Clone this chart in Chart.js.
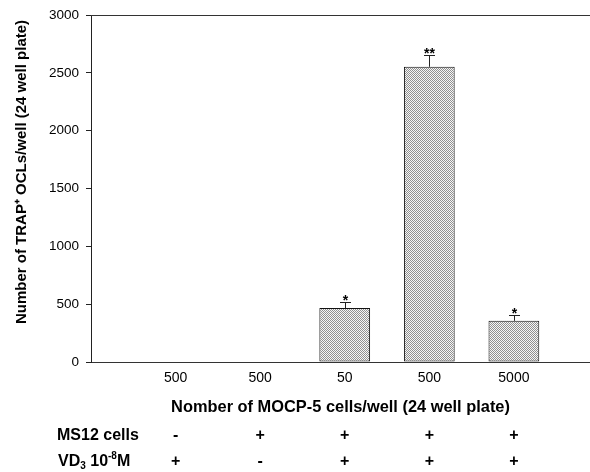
<!DOCTYPE html>
<html><head><meta charset="utf-8">
<script src="https://cdn.jsdelivr.net/npm/chart.js@4/dist/chart.umd.min.js"></script>
<style>html,body{margin:0;padding:0;background:#fff}#wrap{width:590px;height:472px;position:relative}</style>
</head><body><div id="wrap"><canvas id="c"></canvas></div>
<script>
const positions = [1, 2, 3, 4, 5];
const cellCounts = ['500', '500', '50', '500', '5000'];
const ocls = [0, 0, 467, 2553, 356];
const oclErr = [0, 0, 54, 105, 48];
const significance = ['', '', '*', '**', '*'];
const ms12 = ['-', '+', '+', '+', '+'];
const vd3 = ['+', '-', '+', '+', '+'];
const yTicks = [0, 500, 1000, 1500, 2000, 2500, 3000];
const yTitle = 'Number of TRAP\u207A OCLs/well (24 well plate)';

const FONT = '"Liberation Sans", Arial, sans-serif';

function stipple() {
  const p = document.createElement('canvas');
  p.width = 2; p.height = 2;
  const g = p.getContext('2d');
  g.fillStyle = '#f6f6f6'; g.fillRect(0, 0, 2, 2);
  g.fillStyle = '#909090'; g.fillRect(0, 0, 1, 1); g.fillRect(1, 1, 1, 1);
  return g.createPattern(p, 'repeat');
}

const extras = {
  id: 'extras',
  afterDatasetsDraw(chart) {
    const {ctx, chartArea, scales: {x, y}} = chart;
    ctx.save();
    ctx.strokeStyle = '#333'; ctx.lineWidth = 1;
    ctx.beginPath();
    ctx.moveTo(chartArea.left, Math.round(chartArea.top) + 0.5);
    ctx.lineTo(chartArea.right, Math.round(chartArea.top) + 0.5);
    ctx.stroke();
    ctx.strokeStyle = '#222';
    ctx.fillStyle = '#000';
    ctx.font = 'bold 14px ' + FONT;
    ctx.textAlign = 'center';
    ctx.textBaseline = 'alphabetic';
    positions.forEach((p, i) => {
      if (!oclErr[i]) return;
      const px = Math.round(x.getPixelForValue(p)) + 0.5;
      const base = y.getPixelForValue(ocls[i]);
      const top = Math.round(y.getPixelForValue(ocls[i] + oclErr[i])) + 0.5;
      ctx.beginPath();
      ctx.moveTo(px, base); ctx.lineTo(px, top);
      ctx.moveTo(px - 5.5, top); ctx.lineTo(px + 5.5, top);
      ctx.stroke();
      ctx.fillText(significance[i], px, top + 2);
    });
    ctx.restore();
  },
  afterDraw(chart) {
    const {ctx, scales: {x}} = chart;
    ctx.save();
    ctx.save();
    ctx.translate(22, 172);
    ctx.rotate(-Math.PI / 2);
    ctx.font = 'bold 15px ' + FONT;
    ctx.fillStyle = '#000';
    ctx.textAlign = 'center';
    ctx.textBaseline = 'middle';
    ctx.fillText(yTitle, 0, 0);
    ctx.restore();

    ctx.fillStyle = '#000';
    ctx.textBaseline = 'alphabetic';
    const f = 'bold 16px ' + FONT;
    const fs = 'bold 10px ' + FONT;
    const r1 = 440, r2 = 466;
    ctx.textAlign = 'left';
    ctx.font = f;
    ctx.fillText('MS12 cells', 57, r1);
    let cx = 58;
    const part = (t, font, dy) => { ctx.font = font; ctx.fillText(t, cx, r2 + dy); cx += ctx.measureText(t).width; };
    part('VD', f, 0);
    part('3', fs, 3);
    part(' 10', f, 0);
    part('-8', fs, -7);
    part('M', f, 0);
    ctx.font = f;
    ctx.textAlign = 'center';
    positions.forEach((p, i) => {
      const px = x.getPixelForValue(p);
      ctx.fillText(ms12[i], px, r1);
      ctx.fillText(vd3[i], px, r2);
    });
    ctx.restore();
  }
};

new Chart(document.getElementById('c'), {
  type: 'bar',
  data: {
    datasets: [{
      data: positions.map((p, i) => ({x: p, y: ocls[i]})),
      backgroundColor: stipple(),
      borderColor: '#111',
      borderWidth: (c) => (ocls[c.dataIndex] > 0 ? 1 : 0),
      borderSkipped: false,
      barPercentage: 0.6,
      categoryPercentage: 1
    }]
  },
  options: {
    responsive: true,
    maintainAspectRatio: false,
    animation: false,
    layout: {padding: {top: 11, left: 0, right: 0, bottom: 0}},
    plugins: {legend: {display: false}, tooltip: {enabled: false}},
    scales: {
      x: {
        type: 'linear', min: 0, max: 5.9, offset: false,
        afterBuildTicks: (s) => { s.ticks = positions.map(v => ({value: v})); },
        afterFit: (s) => { s.height = 110; },
        ticks: {
          callback: (v, i) => cellCounts[i],
          font: {family: FONT, size: 14}, color: '#000', padding: 8,
          maxRotation: 0, autoSkip: false
        },
        grid: {drawOnChartArea: false, drawTicks: false},
        border: {color: '#333', width: 1},
        title: {
          display: true, text: 'Nomber of MOCP-5 cells/well (24 well plate)',
          font: {family: FONT, size: 16.4, weight: 'bold'}, color: '#000',
          padding: {top: 0, bottom: 54.2}
        }
      },
      y: {
        min: 0, max: 3000,
        afterBuildTicks: (s) => { s.ticks = yTicks.map(v => ({value: v})); },
        afterFit: (s) => { s.width = 91; },
        ticks: {
          callback: (v) => String(v),
          font: {family: FONT, size: 13.5}, color: '#000', padding: 7
        },
        grid: {drawOnChartArea: false, drawTicks: true, tickLength: 5, color: '#222'},
        border: {color: '#222', width: 1},
        title: {display: false}
      }
    }
  },
  plugins: [extras]
});
</script>
</body></html>
